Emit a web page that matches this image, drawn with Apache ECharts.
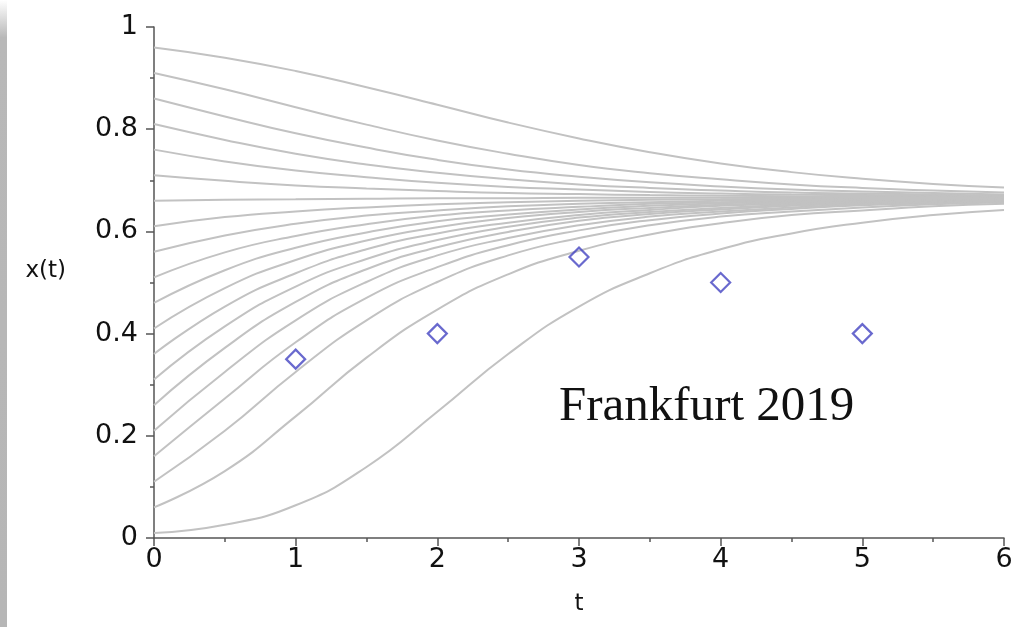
<!DOCTYPE html>
<html><head><meta charset="utf-8">
<script src="https://cdn.jsdelivr.net/npm/echarts@6/dist/echarts.min.js"></script>
<style>html,body{margin:0;padding:0;background:#fff}#c{width:1017px;height:627px}</style>
</head><body><div id="c"></div><script>
// time samples (t) for the solution curves
const tValues = [0, 0.5, 1, 1.5, 2, 2.5, 3, 3.5, 4, 4.5, 5, 5.5, 6];
// solution curves x(t), labelled by their start value x(0)
const c01 = [0.01, 0.026, 0.064, 0.139, 0.247, 0.360, 0.453, 0.518, 0.565, 0.596, 0.617, 0.632, 0.642];
const c06 = [0.06, 0.131, 0.238, 0.353, 0.447, 0.516, 0.562, 0.594, 0.616, 0.632, 0.641, 0.649, 0.654];
const c11 = [0.11, 0.210, 0.325, 0.426, 0.501, 0.553, 0.587, 0.612, 0.629, 0.639, 0.647, 0.653, 0.657];
const c16 = [0.16, 0.273, 0.383, 0.470, 0.530, 0.573, 0.602, 0.622, 0.635, 0.644, 0.651, 0.655, 0.659];
const c21 = [0.21, 0.325, 0.426, 0.501, 0.553, 0.587, 0.612, 0.629, 0.639, 0.647, 0.653, 0.657, 0.660];
const c26 = [0.26, 0.372, 0.462, 0.526, 0.569, 0.599, 0.621, 0.634, 0.643, 0.650, 0.655, 0.658, 0.661];
const c31 = [0.31, 0.414, 0.492, 0.546, 0.583, 0.609, 0.627, 0.638, 0.646, 0.652, 0.656, 0.659, 0.661];
const c36 = [0.36, 0.453, 0.518, 0.565, 0.596, 0.617, 0.632, 0.642, 0.650, 0.654, 0.658, 0.660, 0.662];
const c41 = [0.41, 0.489, 0.544, 0.582, 0.608, 0.626, 0.638, 0.646, 0.652, 0.656, 0.659, 0.661, 0.663];
const c46 = [0.46, 0.524, 0.568, 0.598, 0.620, 0.633, 0.643, 0.650, 0.655, 0.658, 0.661, 0.662, 0.664];
const c51 = [0.51, 0.559, 0.591, 0.614, 0.631, 0.641, 0.648, 0.654, 0.657, 0.660, 0.662, 0.663, 0.664];
const c56 = [0.56, 0.592, 0.615, 0.631, 0.641, 0.649, 0.654, 0.657, 0.660, 0.662, 0.663, 0.664, 0.665];
const c61 = [0.61, 0.628, 0.639, 0.647, 0.653, 0.657, 0.660, 0.662, 0.663, 0.664, 0.665, 0.665, 0.666];
const c66 = [0.66, 0.662, 0.663, 0.664, 0.665, 0.665, 0.666, 0.666, 0.666, 0.666, 0.667, 0.667, 0.667];
const c71 = [0.71, 0.699, 0.690, 0.684, 0.679, 0.675, 0.673, 0.671, 0.670, 0.669, 0.668, 0.668, 0.668];
const c76 = [0.76, 0.737, 0.719, 0.706, 0.695, 0.687, 0.682, 0.677, 0.674, 0.672, 0.671, 0.670, 0.669];
const c81 = [0.81, 0.779, 0.752, 0.731, 0.715, 0.702, 0.692, 0.685, 0.680, 0.676, 0.674, 0.672, 0.670];
const c86 = [0.86, 0.825, 0.792, 0.764, 0.740, 0.721, 0.707, 0.696, 0.688, 0.682, 0.678, 0.675, 0.672];
const c91 = [0.91, 0.878, 0.843, 0.809, 0.778, 0.752, 0.730, 0.714, 0.702, 0.692, 0.685, 0.680, 0.676];
const c96 = [0.96, 0.940, 0.914, 0.882, 0.848, 0.813, 0.782, 0.755, 0.733, 0.716, 0.703, 0.693, 0.686];
const curveList = [c01, c06, c11, c16, c21, c26, c31, c36, c41, c46, c51, c56, c61, c66, c71, c76, c81, c86, c91, c96];
// observed data points (diamonds)
const pointT = [1, 2, 3, 4, 5];
const pointX = [0.35, 0.40, 0.55, 0.50, 0.40];
// annotation and axis names
const noteText = 'Frankfurt 2019';
const xName = 't';
const yName = 'x(t)';

const chart = echarts.init(document.getElementById('c'), null, {renderer: 'canvas'});
const axisColor = '#555555';
const labelFont = {fontFamily: 'DejaVu Sans', fontSize: 27, color: '#111'};

const series = curveList.map(function (arr) {
  return {
    type: 'line',
    data: tValues.map(function (t, i) { return [t, arr[i]]; }),
    smooth: true,
    smoothConstraint: false,
    symbol: 'none',
    silent: true,
    lineStyle: {color: '#c2c2c2', width: 2},
    z: 2
  };
});
series.push({
  type: 'scatter',
  data: pointT.map(function (t, i) { return [t, pointX[i]]; }),
  symbol: 'diamond',
  symbolSize: 19,
  itemStyle: {color: 'rgba(255,255,255,0)', borderColor: '#4444c2', borderWidth: 2.2},
  z: 5
});

chart.setOption({
  animation: false,
  backgroundColor: '#fff',
  grid: {left: 154, right: 13, top: 27, bottom: 89, containLabel: false},
  xAxis: {
    type: 'value', min: 0, max: 6, interval: 1,
    name: xName, nameLocation: 'middle', nameGap: 55,
    nameTextStyle: {fontFamily: 'DejaVu Sans', fontSize: 23, color: '#111'},
    axisLine: {show: true, onZero: false, lineStyle: {color: axisColor, width: 1.5}},
    axisTick: {show: true, inside: false, length: 8, lineStyle: {color: axisColor, width: 1.5}},
    minorTick: {show: true, splitNumber: 2, length: 4, lineStyle: {color: axisColor, width: 1.5}},
    axisLabel: Object.assign({margin: 8}, labelFont),
    splitLine: {show: false}
  },
  yAxis: {
    type: 'value', min: 0, max: 1, interval: 0.2,
    name: yName, nameLocation: 'middle', nameRotate: 0, nameGap: 88,
    nameTextStyle: {fontFamily: 'DejaVu Sans', fontSize: 23, color: '#111', align: 'right', verticalAlign: 'bottom'},
    axisLine: {show: true, onZero: false, lineStyle: {color: axisColor, width: 1.5}},
    axisTick: {show: true, inside: false, length: 8, lineStyle: {color: axisColor, width: 1.5}},
    minorTick: {show: true, splitNumber: 2, length: 4, lineStyle: {color: axisColor, width: 1.5}},
    axisLabel: Object.assign({margin: 16}, labelFont),
    splitLine: {show: false}
  },
  graphic: [
    {
      type: 'rect', left: 0, top: 0, silent: true,
      shape: {width: 7, height: 627},
      style: {fill: new echarts.graphic.LinearGradient(0, 0, 0, 1, [
        {offset: 0, color: '#ffffff'}, {offset: 0.06, color: '#b8b8b8'}, {offset: 1, color: '#b6b6b6'}
      ])}
    },
    {
      type: 'text', left: 559, top: 383, silent: true,
      style: {text: noteText, font: '49px "Liberation Serif"', fill: '#111'}
    }
  ],
  series: series
});
</script></body></html>
